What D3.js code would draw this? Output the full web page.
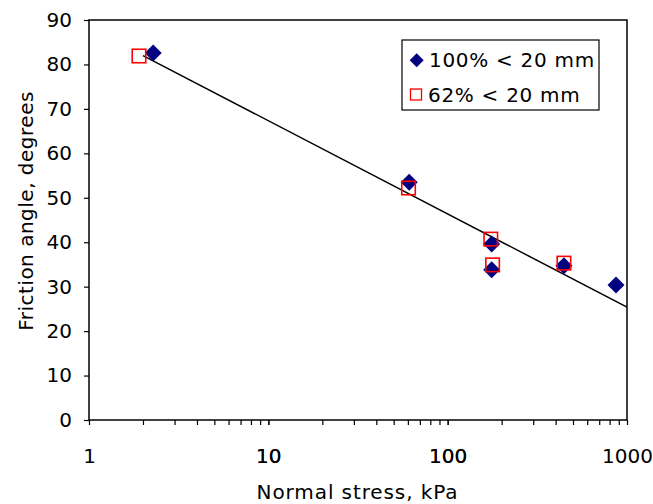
<!DOCTYPE html>
<html><head><meta charset="utf-8">
<script src="https://cdn.jsdelivr.net/npm/d3@7"></script>
<style>body{margin:0;background:#fff}svg{display:block}text{font-family:"DejaVu Sans",Verdana,sans-serif;fill:#000}</style>
</head><body>
<script>
const stress100 = [2.28, 61, 176, 176, 445, 868];
const angle100 = [82.6, 53.5, 39.6, 33.8, 34.7, 30.4];
const stress62 = [1.9, 60.5, 174, 178, 445];
const angle62 = [81.9, 52.2, 40.7, 34.9, 35.3];
const trendX = [2.0, 1000];
const trendY = [82.0, 25.4];
const xTicks = [1, 10, 100, 1000];
const yTicks = [0, 10, 20, 30, 40, 50, 60, 70, 80, 90];
const seriesNames = ["100% < 20 mm", "62% < 20 mm"];

const W = 653, H = 504;
const m = {l: 89, r: 627, t: 20, b: 420};
const FS = "20px";
const svg = d3.select("body").append("svg").attr("width", W).attr("height", H);
const x = d3.scaleLog().domain([1, 1000]).range([m.l, m.r]);
const y = d3.scaleLinear().domain([0, 90]).range([m.b, m.t]);

// plot frame
svg.append("rect").attr("x", m.l).attr("y", m.t).attr("width", m.r - m.l).attr("height", m.b - m.t)
  .attr("fill", "none").attr("stroke", "#000").attr("stroke-width", 1.5);

// y axis
const yAx = svg.append("g").attr("transform", `translate(${m.l},0)`)
  .call(d3.axisLeft(y).tickValues(yTicks).tickSize(5).tickPadding(12).tickFormat(d3.format("d")));
yAx.select(".domain").remove();
yAx.selectAll("line").attr("stroke", "#000").attr("stroke-width", 1.2);
yAx.selectAll("text").style("font-size", FS).style("font-family", '"DejaVu Sans",Verdana,sans-serif');

// x axis with minor ticks
const minor = [];
for (let d = 1; d < 1000; d *= 10) for (let k = 1; k <= 10; k++) minor.push(d * k);
const xAx = svg.append("g").attr("transform", `translate(0,${m.b})`)
  .call(d3.axisBottom(x).tickValues(minor).tickSize(5).tickPadding(24)
    .tickFormat(d => xTicks.includes(d) ? String(d) : ""));
xAx.select(".domain").remove();
xAx.selectAll("line").attr("stroke", "#000").attr("stroke-width", 1.2);
xAx.selectAll("text").style("font-size", FS).style("font-family", '"DejaVu Sans",Verdana,sans-serif');

// trend line
svg.append("line").attr("x1", x(trendX[0])).attr("y1", y(trendY[0]))
  .attr("x2", x(trendX[1])).attr("y2", y(trendY[1]))
  .attr("stroke", "#000").attr("stroke-width", 1.5);

// diamonds
const dsz = 8.5;
const diamond = (cx, cy, s) => `M${cx},${cy - s}L${cx + s},${cy}L${cx},${cy + s}L${cx - s},${cy}Z`;
svg.append("g").selectAll("path").data(stress100.map((s, i) => [s, angle100[i]])).join("path")
  .attr("d", d => diamond(x(d[0]), y(d[1]), dsz)).attr("fill", "#000080");
// squares
const sq = 13.5;
svg.append("g").selectAll("rect").data(stress62.map((s, i) => [s, angle62[i]])).join("rect")
  .attr("x", d => x(d[0]) - sq / 2).attr("y", d => y(d[1]) - sq / 2)
  .attr("width", sq).attr("height", sq).attr("fill", "none").attr("stroke", "#ff0000").attr("stroke-width", 1.6);

// legend
const lg = svg.append("g");
lg.append("rect").attr("x", 402).attr("y", 40).attr("width", 197).attr("height", 70)
  .attr("fill", "#fff").attr("stroke", "#000").attr("stroke-width", 1.2);
lg.append("path").attr("d", diamond(416.7, 60.3, 7)).attr("fill", "#000080");
lg.append("rect").attr("x", 410.5).attr("y", 89).attr("width", 11).attr("height", 11)
  .attr("fill", "none").attr("stroke", "#ff0000").attr("stroke-width", 1.3);
lg.append("text").attr("x", 429).attr("y", 67).style("font-size", FS).style("letter-spacing", "0.7px").text(seriesNames[0]);
lg.append("text").attr("x", 428).attr("y", 101.5).style("font-size", FS).style("letter-spacing", "0.7px").text(seriesNames[1]);

// axis titles
svg.append("text").attr("x", 357.5).attr("y", 498.5).attr("text-anchor", "middle")
  .style("font-size", FS).style("letter-spacing", "0.9px").text("Normal stress, kPa");
svg.append("text").attr("transform", `translate(33,211) rotate(-90)`)
  .attr("text-anchor", "middle").style("font-size", FS).style("letter-spacing", "0.5px").text("Friction angle, degrees");
</script>
</body></html>
